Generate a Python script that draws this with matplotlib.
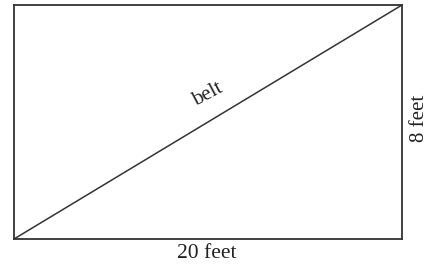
import matplotlib.pyplot as plt

# rectangle dimensions (feet)
width_ft = 20
height_ft = 8
belt_x = [0, width_ft]
belt_y = [0, height_ft]

labels = {"bottom": "20 feet", "right": "8 feet", "belt": "belt"}

plt.rcParams['font.family'] = ['Liberation Serif', 'DejaVu Serif']

fig = plt.figure(figsize=(4.30, 2.71), dpi=100)
ax = fig.add_axes([14 / 430, 32 / 271, 388 / 430, 234 / 271])
ax.set_xlim(0, width_ft)
ax.set_ylim(0, height_ft)

for s in ax.spines.values():
    s.set_color('#333333')
    s.set_linewidth(1.3)
ax.set_xticks([])
ax.set_yticks([])

# the belt (diagonal)
ax.plot(belt_x, belt_y, color='#333333', lw=1.1, solid_capstyle='butt', clip_on=False)

ax.text(10.0, 4.92, labels["belt"], rotation=28, ha='center', va='center',
        fontsize=15, color='#222222')

ax.text(0.496, -0.064, labels["bottom"], transform=ax.transAxes, ha='center', va='center',
        fontsize=15.5, color='#222222')
ax.text(1.045, 0.517, labels["right"], transform=ax.transAxes, rotation=90,
        ha='center', va='center', fontsize=15, color='#222222')

fig.savefig('out.png', dpi=100)
